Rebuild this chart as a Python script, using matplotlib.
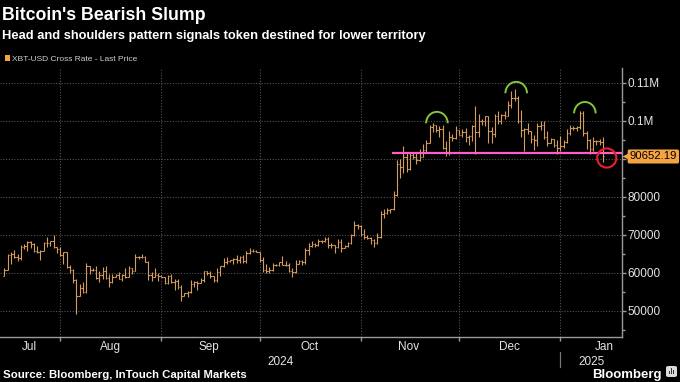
import numpy as np
import pandas as pd
import matplotlib
matplotlib.use("Agg")
import matplotlib.pyplot as plt
import matplotlib.dates as mdates
from matplotlib.patches import Arc, FancyBboxPatch, Rectangle

# XBT-USD daily bars, Jul 14 2024 - Jan 13 2025 (values in thousands of USD)
first_open = 59.2
bar_close = [
    # Jul 14-31
    60.8, 64.8, 65.1, 64.1, 63.9, 66.7, 67.2, 68.2, 67.6, 65.9, 65.4, 65.8, 67.9, 68.0, 68.3, 66.8, 66.2, 64.6,
    # Aug
    65.4, 61.5, 60.7, 58.1, 54.0, 56.0, 55.1, 61.7, 60.9, 60.9, 58.7, 59.4, 60.6, 58.7, 57.6, 58.9,
    59.5, 58.5, 59.5, 59.0, 61.2, 60.4, 64.1, 64.2, 64.3, 62.9, 59.5, 59.0, 59.4, 59.1, 58.9,
    # Sep
    57.3, 59.1, 57.5, 57.9, 56.2, 53.9, 54.8, 54.9, 57.0, 57.6, 57.3, 58.1, 60.5, 60.0, 59.2,
    58.2, 60.3, 61.7, 62.9, 63.2, 63.3, 63.6, 63.3, 64.2, 63.1, 65.2, 65.8, 65.9, 65.6, 63.3,
    # Oct
    60.8, 60.6, 60.8, 62.1, 62.1, 62.8, 62.2, 62.1, 60.6, 60.3, 62.4, 63.2, 62.9, 66.0, 67.0, 67.6,
    67.4, 68.4, 68.4, 69.0, 67.4, 67.4, 66.7, 68.2, 66.6, 67.0, 67.9, 69.9, 72.7, 72.3, 70.2,
    # Nov
    69.5, 69.3, 68.7, 67.8, 69.4, 75.6, 75.9, 76.5, 76.7, 80.5, 88.7, 87.9, 90.6, 87.3, 91.1,
    90.6, 89.8, 90.5, 92.3, 94.3, 98.4, 98.9, 97.7, 98.0, 93.0, 91.9, 95.9, 95.6, 97.5, 96.4,
    # Dec
    97.2, 95.8, 96.0, 98.8, 97.0, 99.9, 99.9, 101.2, 97.3, 96.6, 101.2, 100.0, 101.5, 101.4, 104.3, 106.0,
    106.1, 100.0, 97.5, 97.8, 97.3, 95.2, 94.9, 98.7, 99.0, 95.8, 94.2, 95.2, 93.7, 92.8, 93.4,
    # Jan 1-13
    94.4, 96.9, 98.1, 98.2, 98.3, 102.1, 96.9, 95.0, 92.5, 94.7, 94.6, 94.5, 90.65219,
]
bar_high = [
    61.4, 64.9, 65.4, 66.1, 65.1, 67.4, 67.6, 68.4, 68.5, 67.8, 67.1, 66.1, 68.2, 69.4, 68.3, 70.0, 66.9, 66.8,
    65.6, 65.6, 62.2, 61.1, 58.3, 57.0, 57.7, 62.7, 61.8, 61.4, 61.8, 60.6, 61.5, 61.8, 59.8, 59.8,
    59.6, 60.2, 59.6, 61.4, 61.8, 61.4, 64.9, 64.5, 64.9, 64.5, 63.2, 60.2, 61.2, 59.9, 59.4,
    59.0, 59.4, 59.8, 58.5, 58.3, 56.9, 54.8, 55.3, 58.1, 58.0, 57.9, 58.6, 60.6, 60.6, 60.4,
    59.2, 61.3, 61.8, 63.8, 64.1, 63.5, 63.9, 64.7, 64.5, 64.8, 65.8, 66.5, 66.2, 66.1, 65.6,
    64.1, 62.4, 61.5, 62.5, 62.4, 62.9, 64.5, 63.2, 62.5, 61.3, 63.4, 63.5, 63.3, 66.5, 67.8, 68.4,
    67.9, 68.9, 68.7, 69.4, 69.5, 67.8, 67.4, 68.8, 68.8, 67.4, 68.2, 70.2, 73.6, 72.9, 72.6,
    71.6, 70.0, 69.4, 69.0, 70.5, 76.4, 76.9, 77.2, 76.9, 81.5, 89.6, 89.9, 93.4, 91.8, 91.8,
    91.8, 91.6, 92.6, 94.0, 94.9, 99.0, 99.6, 99.0, 98.6, 98.9, 94.7, 97.3, 96.6, 98.7, 97.5,
    97.8, 98.1, 96.3, 99.0, 104.0, 101.9, 100.5, 101.4, 101.3, 98.3, 101.9, 102.5, 101.9, 102.6, 105.2, 107.8,
    108.3, 106.5, 102.8, 98.1, 99.5, 97.4, 96.4, 99.4, 99.9, 99.9, 97.3, 95.5, 95.2, 94.9, 96.1,
    94.9, 97.8, 98.9, 98.7, 98.8, 102.5, 102.7, 97.3, 95.3, 95.8, 94.9, 95.3, 95.9,
]
bar_low = [
    59.2, 60.7, 62.4, 63.9, 63.2, 63.3, 66.3, 65.9, 66.6, 65.5, 65.2, 63.5, 65.8, 66.7, 67.1, 66.5, 65.3, 64.5,
    62.3, 61.2, 59.9, 57.3, 49.1, 54.0, 54.6, 54.8, 59.6, 60.4, 58.4, 57.7, 58.5, 58.4, 56.2, 57.4,
    58.8, 58.4, 57.9, 58.6, 58.8, 59.8, 60.4, 63.6, 63.8, 62.8, 58.1, 57.9, 58.8, 57.8, 58.8,
    57.2, 57.1, 57.4, 55.6, 55.7, 52.6, 53.8, 53.6, 54.6, 56.4, 55.6, 57.3, 57.6, 59.5, 58.7,
    57.5, 57.6, 59.2, 61.6, 62.4, 62.8, 62.4, 62.7, 62.7, 62.7, 62.7, 64.9, 65.5, 65.4, 62.9,
    60.2, 59.9, 59.9, 60.5, 61.7, 61.9, 62.1, 61.8, 60.3, 58.9, 60.1, 62.4, 62.0, 62.4, 64.8, 66.7,
    66.7, 67.1, 68.0, 68.1, 66.6, 66.6, 65.3, 66.5, 65.5, 66.5, 66.8, 67.6, 69.7, 71.5, 69.7,
    68.8, 69.0, 67.5, 66.8, 67.5, 69.3, 74.5, 75.6, 75.8, 76.5, 80.2, 85.1, 86.3, 86.7, 87.1,
    90.1, 88.7, 89.4, 90.4, 91.5, 94.2, 97.2, 97.2, 95.7, 92.6, 90.8, 91.0, 94.7, 95.3, 96.2,
    95.7, 94.4, 93.6, 94.7, 91.2, 95.9, 98.9, 98.7, 94.3, 94.3, 95.7, 99.3, 99.2, 100.6, 101.2, 103.3,
    105.3, 99.6, 95.7, 92.2, 96.5, 94.2, 92.4, 93.4, 97.6, 95.2, 93.4, 94.1, 93.1, 91.4, 92.0,
    92.8, 94.2, 96.2, 97.6, 97.3, 97.9, 96.1, 92.5, 91.2, 92.2, 93.8, 93.7, 89.3,
]

dates = pd.date_range("2024-07-14", periods=len(bar_close), freq="D")
month_starts = pd.to_datetime(["2024-08-01", "2024-09-01", "2024-10-01",
                               "2024-11-01", "2024-12-01", "2025-01-01"])
month_labels = ["Jul", "Aug", "Sep", "Oct", "Nov", "Dec", "Jan"]
month_label_dates = pd.to_datetime(["2024-07-22 18:00", "2024-08-16 08:00", "2024-09-15 12:00",
                                    "2024-10-16 08:00", "2024-11-15 12:00", "2024-12-16 08:00",
                                    "2025-01-14 12:00"])
y_ticks = [50000, 60000, 70000, 80000, 90000, 100000, 110000]
y_labels = ["50000", "60000", "70000", "80000", "", "0.1M", "0.11M"]

last_price = 90652.19
neckline = 91700
neck_start = pd.Timestamp("2024-11-10 12:00")
# shoulders / head markers (date, top of arc)
arc_dates = pd.to_datetime(["2024-11-24 06:00", "2024-12-18 12:00", "2025-01-08 12:00"])
arc_tops = [102400, 110300, 105000]

ORANGE = "#f5a444"
BAR = "#d49c5e"
GRID = "#555555"
AXC = "#9a9a9a"
TXT = "#e4e4e4"

close = np.array(bar_close) * 1000
high = np.array(bar_high) * 1000
low = np.array(bar_low) * 1000
opn = np.r_[first_open * 1000, close[:-1]]
# bars sit at the end of each trading day
x = mdates.date2num(dates) + 1.0

fig = plt.figure(figsize=(6.8, 3.82), dpi=100, facecolor="black")
ax = fig.add_axes([0.0, 0.118, 0.915, 0.704], facecolor="black")

ax.vlines(x, low, high, color=BAR, lw=0.8, zorder=3)
ax.hlines(opn, x - 0.45, x, color=BAR, lw=0.8, zorder=3)
ax.hlines(close, x, x + 0.45, color=BAR, lw=0.8, zorder=3)

x_left = mdates.date2num(pd.Timestamp("2024-07-13 15:00"))
x_right = mdates.date2num(pd.Timestamp("2025-01-19 22:00"))
ax.set_xlim(x_left, x_right)
ax.set_ylim(43150, 113950)

# neckline, head & shoulders arcs, breakdown circle
ax.hlines(neckline, mdates.date2num(neck_start), x_right, color="#ff5cc6", lw=1.6, zorder=4)
for d, top in zip(arc_dates, arc_tops):
    ax.add_patch(Arc((mdates.date2num(d), top - 3000), 6.6, 6000, theta1=22, theta2=158,
                     color="#86c43c", lw=1.4, zorder=4))
ax.scatter([x[-1] + 1.2], [last_price - 400], s=190, facecolors="none",
           edgecolors="#e8212b", linewidths=1.5, zorder=5)

# axes styling
for side in ["left", "top"]:
    ax.spines[side].set_visible(False)
for side in ["right", "bottom"]:
    ax.spines[side].set_color(AXC)
    ax.spines[side].set_linewidth(1.0)

ax.yaxis.tick_right()
ax.set_yticks(y_ticks)
ax.set_yticklabels(y_labels)
ax.set_yticks(np.arange(45000, 113000, 10000), minor=True)
ax.tick_params(axis="y", which="major", colors=AXC, labelcolor=TXT, length=3, width=1,
               pad=1, labelsize=8.5)
ax.tick_params(axis="y", which="minor", colors=AXC, length=2.5, width=1)
for lab in ax.get_yticklabels():
    lab.set_family("Liberation Sans")

ax.set_xticks(mdates.date2num(month_starts))
ax.set_xticklabels([""] * len(month_starts))
ax.set_xticks(mdates.date2num(month_label_dates), minor=True)
ax.set_xticklabels(month_labels, minor=True)
ax.tick_params(axis="x", which="major", colors=AXC, length=3, width=1)
ax.tick_params(axis="x", which="minor", length=0, pad=3, labelcolor=TXT, labelsize=8.5)
for lab in ax.get_xticklabels(minor=True):
    lab.set_family("Liberation Sans")

ax.grid(True, which="major", axis="both", color=GRID, linestyle=(0, (1, 1.5)), lw=0.8)
ax.set_axisbelow(True)

# year labels under the month labels
jan1 = mdates.date2num(pd.Timestamp("2025-01-01"))
ax.text((x_left + jan1) / 2, -0.07, "2024", transform=ax.get_xaxis_transform(),
        ha="center", va="top", color=TXT, fontsize=8.5, family="Liberation Sans")
ax.text((jan1 + x_right) / 2, -0.07, "2025", transform=ax.get_xaxis_transform(),
        ha="center", va="top", color=TXT, fontsize=8.5, family="Liberation Sans")
ax.plot([jan1, jan1], [-0.055, -0.11], transform=ax.get_xaxis_transform(),
        color="#777777", lw=0.9, clip_on=False)

# last price tag
ax.text(1.012, last_price, "%.2f" % last_price, transform=ax.get_yaxis_transform(),
        ha="left", va="center", color="black", fontsize=8.1, family="Liberation Sans",
        bbox=dict(boxstyle="round,pad=0.18,rounding_size=0.15", fc=ORANGE, ec="none"),
        zorder=6, clip_on=False)
ax.plot([1.005], [last_price], marker="<", ms=4.5, color=ORANGE, mec="none",
        transform=ax.get_yaxis_transform(), clip_on=False, zorder=6)

# titles and legend
fig.text(0.003, 1 - 20 / 382, "Bitcoin's Bearish Slump", color="white", fontsize=12.8,
         fontweight="bold", family="Liberation Sans", va="baseline")
fig.text(0.003, 1 - 39 / 382, "Head and shoulders pattern signals token destined for lower territory",
         color="white", fontsize=9.3, fontweight="bold", family="Liberation Sans", va="baseline")
fig.patches.append(Rectangle((5 / 680, 1 - 61 / 382), 5 / 680, 6 / 382, transform=fig.transFigure,
                             fc=ORANGE, ec="none"))
fig.text(12 / 680, 1 - 61 / 382, "XBT-USD Cross Rate - Last Price", color="#cfcfcf", fontsize=6.0,
         family="Liberation Sans", va="baseline")

fig.text(3 / 680, 1 - 378 / 382, "Source: Bloomberg, InTouch Capital Markets", color="white",
         fontsize=8.2, fontweight="bold", family="Liberation Sans", va="baseline")
fig.text(662 / 680, 1 - 378 / 382, "Bloomberg", color="white", fontsize=9.5, fontweight="bold",
         family="Liberation Sans", va="baseline", ha="right")
fig.patches.append(FancyBboxPatch((666 / 680, 1 - 377 / 382), 11 / 680, 11 / 382,
                                  boxstyle="round,pad=0,rounding_size=0.004",
                                  transform=fig.transFigure, fc="#dcdcdc", ec="none"))
for i, h in enumerate([3, 6, 4]):
    fig.patches.append(Rectangle(((668.5 + i * 2.3) / 680, 1 - 374 / 382), 1.2 / 680, h / 382,
                                 transform=fig.transFigure, fc="#333333", ec="none"))

fig.savefig("out.png", dpi=100, facecolor="black")
